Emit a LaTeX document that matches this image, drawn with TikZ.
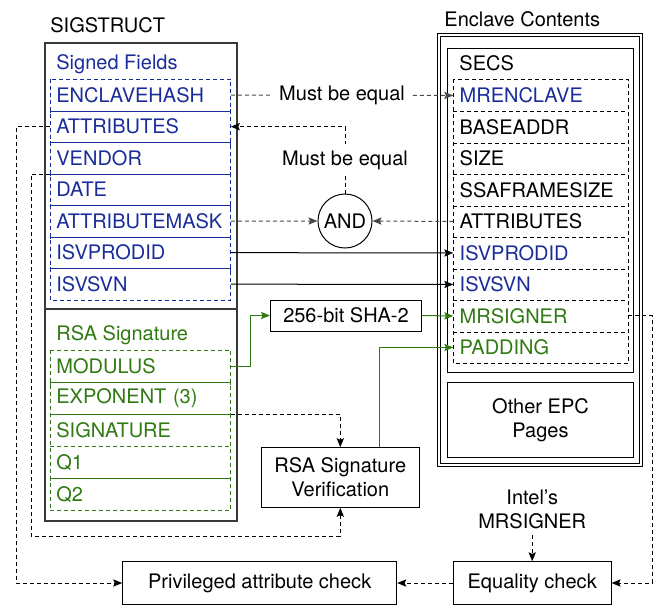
\documentclass[tikz,border=0pt]{standalone}
\usepackage{fontspec}
\setmainfont{TeX Gyre Heros}
\usetikzlibrary{arrows.meta,positioning,calc}
\definecolor{sigblue}{HTML}{1A2C9A}
\definecolor{siggreen}{HTML}{2F7A12}
\definecolor{frame}{HTML}{3A3A3A}
\definecolor{dashgray}{HTML}{4A4A4A}
\tikzset{
  >={Stealth[length=4.5pt,width=3.6pt,inset=.8pt]},
  box/.style={draw,line width=.5pt,inner sep=0pt},
  title/.style={anchor=west,inner sep=0pt},
  field/.style={anchor=north west,minimum height=15.75pt,text width=84pt,inner xsep=3pt,inner ysep=0pt,align=left},
  efield/.style={field,text width=81pt},
  gfield/.style={field,minimum height=16pt,text=siggreen},
  sep/.style={line width=.5pt,{Bar[width=2pt]}-{Bar[width=2pt]}},
  dline/.style={line width=.5pt,dash pattern=on 2pt off 1.5pt},
  flow/.style={->,line width=.5pt},
  dflow/.style={->,dline},
  gdflow/.style={->,dline,color=dashgray},
  gflow/.style={->,line width=.5pt,color=siggreen},
  tag/.style={fill=white,text=black,inner xsep=3pt},
}

\begin{document}
\begin{tikzpicture}[x=.5pt,y=-.5pt]
  \useasboundingbox (0,0) rectangle (657,606);

  % SIGSTRUCT
  \node[title] (sigtitle) at (50,25) {SIGSTRUCT};
  \node[box,draw=frame,line width=.75pt,anchor=north west,minimum width=96pt,minimum height=239pt] (sigstruct) at (44,42) {};
  \draw[frame,line width=.75pt] (44,309) -- (236,309);
  \node[title,text=sigblue] (signed) at (56,64) {Signed Fields};
  \foreach \name/\txt [count=\i from 0] in {enclavehash/ENCLAVEHASH,attributes/ATTRIBUTES,vendor/VENDOR,date/DATE,attributemask/ATTRIBUTEMASK,isvprodid/ISVPRODID,isvsvn/ISVSVN}
    \node[field,text=sigblue] (s-\name) at ({50},{79+31.5*\i}) {\txt};
  \draw[sigblue,dline] (s-enclavehash.north west) rectangle (s-isvsvn.south east);
  \foreach \name in {enclavehash,attributes,vendor,date,attributemask,isvprodid}
    \draw[sigblue,sep] (s-\name.south west) -- (s-\name.south east);

  \node[title,text=siggreen] (rsatitle) at (56,335) {RSA Signature};
  \foreach \name/\txt [count=\i from 0] in {modulus/MODULUS,exponent/EXPONENT (3),signature/SIGNATURE,qone/Q1,qtwo/Q2}
    \node[gfield] (g-\name) at ({50},{350+32*\i}) {\txt};
  \draw[siggreen,dline] (g-modulus.north west) rectangle (g-qtwo.south east);
  \foreach \name in {modulus,exponent,qone}
    \draw[siggreen,sep] (g-\name.south west) -- (g-\name.south east);
  \draw[siggreen,dline] (g-signature.south west) -- (g-signature.south east);

  % enclave contents
  \node[title] (enctitle) at (444,19.5) {Enclave Contents};
  \node[box,double,double distance=1pt,anchor=north west,minimum width=101pt,minimum height=215pt] (enclave) at (438,34) {};
  \node[box,anchor=north west,minimum width=93pt,minimum height=162pt] (secs) at (447,48) {};
  \node[title] (secstitle) at (459,63) {SECS};
  \foreach \name/\txt/\col [count=\i from 0] in {mrenclave/MRENCLAVE/sigblue,baseaddr/BASEADDR/black,size/SIZE/black,ssaframesize/SSAFRAMESIZE/black,attributes/ATTRIBUTES/black,isvprodid/ISVPRODID/sigblue,isvsvn/ISVSVN/sigblue,mrsigner/MRSIGNER/siggreen,padding/PADDING/siggreen}
    \node[efield,text=\col] (e-\name) at ({453.3},{79.3+31.5*\i}) {\txt};
  \draw[dline] (e-mrenclave.north west) rectangle (e-padding.south east);
  \foreach \name in {mrenclave,baseaddr,size,ssaframesize,attributes,isvprodid,isvsvn,mrsigner}
    \draw[dline] (e-\name.south west) -- (e-\name.south east);
  \node[box,anchor=north west,minimum width=93pt,minimum height=37.5pt,align=center] (otherepc) at (447,382) {Other EPC\\Pages};

  % checks
  \node[box,circle,minimum size=27pt] (and) at (345,221) {AND};
  \node[box,minimum width=75.5pt,minimum height=15.5pt] (sha) at (346,315.5) {256-bit SHA-2};
  \node[box,minimum width=78.7pt,minimum height=29.8pt,align=center] (rsaver) at (340.3,477.5) {RSA Signature\\Verification};
  \node[align=center,inner sep=0pt] (intel) at (532.2,509) {Intel’s\\MRSIGNER};
  \node[box,minimum width=78.85pt,minimum height=21.2pt] (equal) at (532.2,583) {Equality check};
  \node[box,minimum width=137pt,minimum height=21.2pt] (priv) at (259.7,583) {Privileged attribute check};

  \coordinate (vlane) at (31,536);
  \coordinate (alane) at (16,583);
  \coordinate (mlane) at (652,583);

  \draw[gdflow] (s-enclavehash.east) -- node[tag]{Must be equal} (e-mrenclave.west);
  \draw[dflow] (and.north) |- node[pos=.25,tag]{Must be equal} (s-attributes.east);
  \draw[gdflow] (s-attributemask.east) -- (and.west);
  \draw[gdflow] (e-attributes.west) -- (and.east);
  \draw[flow] (s-isvprodid.east) -- (e-isvprodid.west);
  \draw[flow] (s-isvsvn.east) -- (e-isvsvn.west);
  \draw[gflow] (g-modulus.east) -- ++(20,0) |- (sha.west);
  \draw[gflow] (sha.east) -- (e-mrsigner.west);
  \draw[gflow] ($(rsaver.north)!.5!(rsaver.north east)$) |- (e-padding.west);
  \draw[dflow] (g-exponent.south east) -| (rsaver.north);
  \draw[dflow] (s-vendor.south west) -| (vlane) -| (rsaver.south);
  \draw[dflow] (s-attributes.west) -| (alane) -- (priv.west);
  \draw[dflow] (e-mrsigner.east) -| (mlane) -- (equal.east);
  \draw[dflow,shorten <=3pt] (intel.south) -- (equal.north);
  \draw[dflow] (equal.west) -- (priv.east);
\end{tikzpicture}
\end{document}
